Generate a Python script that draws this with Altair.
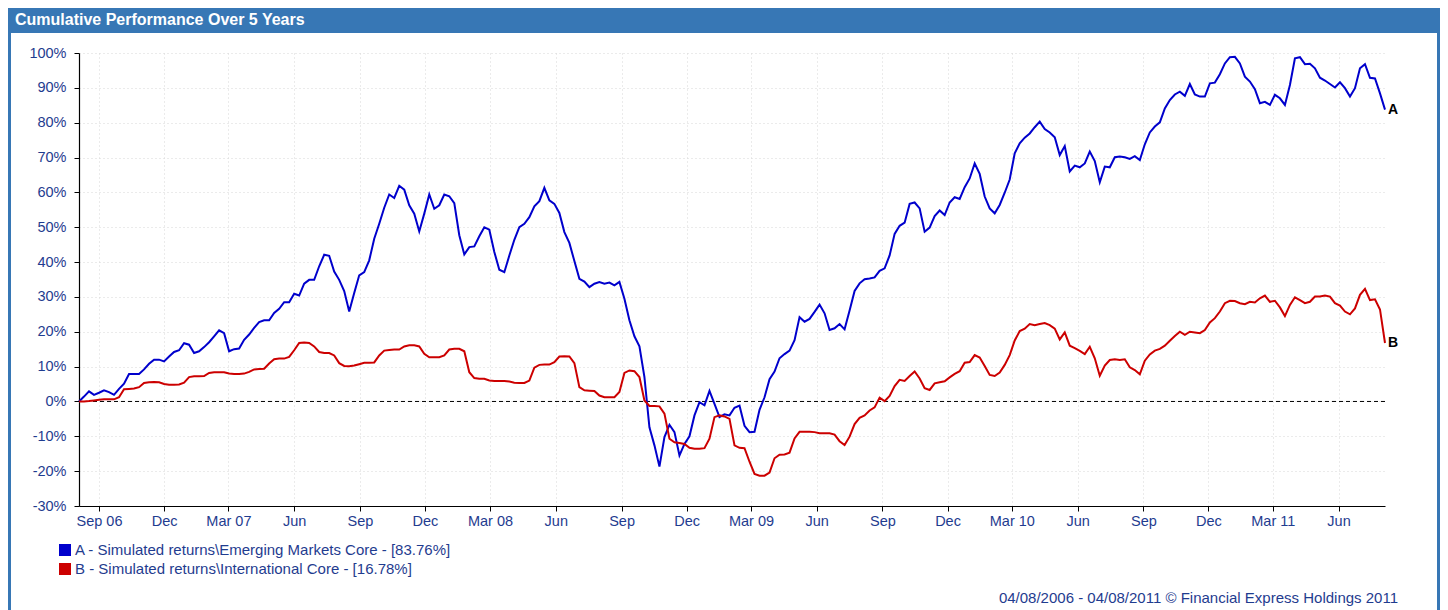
import altair as alt
import pandas as pd

# ---------------- data ----------------
start_date = "2006-08-04"
n_weeks = 262

emerging = [
    0, 1.4, 2.9, 1.9, 2.5, 3.2, 2.7, 1.9, 3.6, 5.1,
    7.9, 7.9, 7.9, 9.2, 10.8, 12.0, 12.0, 11.5, 12.9, 14.2,
    14.7, 16.7, 16.3, 13.9, 14.4, 15.6, 17.0, 18.7, 20.4, 19.6,
    14.4, 15.0, 15.2, 17.7, 19.2, 21.1, 22.8, 23.3, 23.3, 25.4,
    26.6, 28.5, 28.5, 30.9, 30.4, 33.8, 34.9, 34.9, 38.8, 42.1,
    41.8, 37.3, 34.9, 31.7, 25.8, 31.1, 36.2, 37.1, 40.5, 46.7,
    51.0, 55.6, 59.4, 58.4, 61.9, 60.8, 56.3, 53.9, 48.8, 53.9,
    59.4, 55.3, 56.3, 59.4, 58.9, 56.9, 47.7, 42.2, 44.3, 44.5,
    47.4, 50.0, 49.3, 42.9, 37.8, 37.1, 41.9, 46.4, 50.0, 51.0,
    52.9, 56.0, 57.5, 61.3, 57.7, 56.7, 54.1, 48.6, 45.5, 40.3,
    35.2, 34.4, 32.8, 33.8, 34.3, 33.8, 34.1, 33.3, 34.3, 29.5,
    23.3, 18.7, 15.8, 7.0, -7.4, -12.6, -18.7, -10.2, -6.7, -8.8,
    -15.5, -12.2, -10.0, -4.0, -0.2, -1.1, 3.0, -0.7, -4.5, -3.7,
    -4.0, -1.8, -1.2, -7.0, -8.8, -8.7, -2.4, 1.2, 6.4, 8.6,
    12.4, 13.6, 14.6, 17.6, 24.2, 22.9, 23.7, 25.7, 27.8, 25.3,
    20.5, 21.0, 22.2, 20.7, 26.1, 31.7, 33.9, 35.1, 35.3, 35.6,
    37.5, 38.2, 41.9, 48.1, 50.4, 51.3, 56.7, 57.1, 55.4, 48.7,
    49.9, 53.2, 54.8, 53.5, 57.1, 58.6, 58.1, 61.5, 64.0, 68.3,
    65.3, 58.8, 55.4, 54.0, 56.4, 59.9, 63.7, 71.2, 74.1, 75.7,
    76.9, 78.7, 80.3, 78.2, 77.2, 75.8, 70.7, 73.3, 66.0, 67.7,
    67.2, 68.3, 71.7, 69.0, 62.9, 67.4, 67.2, 70.1, 70.3, 70.1,
    69.6, 70.4, 69.3, 73.8, 77.2, 78.9, 80.1, 84.1, 86.5, 88.1,
    88.9, 87.7, 91.1, 88.1, 87.5, 87.5, 91.3, 91.5, 93.9, 97.0,
    98.8, 98.9, 97.0, 93.2, 91.8, 89.6, 85.6, 86.0, 85.1, 88.0,
    87.0, 85.1, 90.8, 98.5, 98.8, 96.8, 96.9, 95.6, 92.9, 92.1,
    91.1, 90.1, 91.6, 89.9, 87.5, 89.9, 95.6, 96.8, 92.9, 92.7,
    88.4, 83.76,
]

international = [
    0, 0, 0.1, 0.3, 0.5, 0.6, 0.6, 0.6, 1.2, 3.5,
    3.6, 3.7, 4.1, 5.3, 5.5, 5.6, 5.5, 5.0, 4.8, 4.8,
    4.9, 5.4, 7.0, 7.2, 7.2, 7.3, 8.2, 8.4, 8.4, 8.4,
    8.0, 7.9, 7.9, 8.0, 8.5, 9.2, 9.3, 9.4, 10.9, 12.1,
    12.3, 12.3, 12.8, 14.7, 16.8, 16.9, 16.8, 15.8, 14.2, 13.9,
    13.9, 13.2, 11.0, 10.2, 10.1, 10.3, 10.7, 11.1, 11.1, 11.2,
    13.2, 14.6, 14.8, 14.9, 14.9, 15.8, 16.1, 16.1, 15.8, 13.7,
    12.7, 12.7, 12.7, 13.2, 14.9, 15.1, 15.1, 14.4, 8.4, 6.7,
    6.5, 6.5, 6.0, 5.9, 5.9, 5.9, 5.7, 5.4, 5.3, 5.3,
    6.0, 9.7, 10.5, 10.6, 10.6, 11.3, 12.9, 13.0, 12.9, 11.0,
    4.1, 3.2, 3.1, 3.0, 1.7, 1.2, 1.2, 1.2, 2.7, 8.2,
    8.9, 8.7, 7.0, 0.3, -1.3, -1.3, -1.4, -3.5, -10.7, -11.7,
    -11.9, -12.2, -13.3, -13.6, -13.6, -13.4, -10.7, -4.5, -4.0, -4.3,
    -5.0, -12.6, -13.3, -13.4, -17.3, -20.8, -21.3, -21.3, -20.4, -16.3,
    -15.3, -15.2, -14.7, -10.6, -8.7, -8.7, -8.7, -8.8, -9.1, -9.1,
    -9.1, -9.5, -11.4, -12.5, -10.1, -6.5, -4.7, -4.0, -2.6, -1.7,
    1.1, 0.1, 1.6, 4.4, 6.2, 5.9, 7.3, 8.6, 6.6, 3.8,
    3.3, 5.2, 5.5, 5.8, 6.9, 7.9, 8.7, 11.1, 11.3, 13.3,
    12.6, 10.2, 7.6, 7.3, 8.3, 10.5, 13.3, 17.5, 20.2, 20.9,
    22.2, 21.9, 22.2, 22.5, 21.9, 20.9, 17.8, 19.8, 16.0, 15.3,
    14.5, 13.6, 15.7, 12.4, 7.4, 10.3, 11.9, 12.1, 11.9, 12.1,
    9.8, 9.0, 7.8, 11.7, 13.5, 14.6, 15.1, 16.0, 17.4, 18.8,
    20.0, 19.1, 20.0, 19.8, 19.6, 20.5, 22.7, 23.9, 25.8, 28.2,
    28.9, 28.8, 28.2, 27.9, 28.6, 28.4, 29.6, 30.4, 28.6, 28.9,
    27.0, 24.5, 27.7, 29.9, 29.1, 28.2, 28.6, 30.1, 30.1, 30.4,
    30.1, 28.2, 27.5, 25.8, 25.0, 26.7, 30.6, 32.3, 29.1, 29.3,
    26.4, 16.78,
]

series_names = ["A", "B"]
series_colors = ["#0000CC", "#CC0000"]
legend_labels = [
    "A - Simulated returns\\Emerging Markets Core - [83.76%]",
    "B - Simulated returns\\International Core - [16.78%]",
]
title_text = "Cumulative Performance Over 5 Years"
footer_text = "04/08/2006 - 04/08/2011 \u00a9 Financial Express Holdings 2011"

# quarterly x ticks (year, month)
tick_months = [
    (2006, 9), (2006, 12), (2007, 3), (2007, 6), (2007, 9), (2007, 12),
    (2008, 3), (2008, 6), (2008, 9), (2008, 12), (2009, 3), (2009, 6),
    (2009, 9), (2009, 12), (2010, 3), (2010, 6), (2010, 9), (2010, 12),
    (2011, 3), (2011, 6),
]
y_ticks = [-30, -20, -10, 0, 10, 20, 30, 40, 50, 60, 70, 80, 90, 100]

# ---------------- build tables ----------------
dates = pd.date_range(start_date, periods=n_weeks, freq="7D")
df = pd.concat([
    pd.DataFrame({"date": dates, "value": emerging, "series": series_names[0]}),
    pd.DataFrame({"date": dates, "value": international, "series": series_names[1]}),
], ignore_index=True)
df_end = pd.DataFrame({
    "date": [dates[-1], dates[-1]],
    "value": [emerging[-1], international[-1]],
    "series": series_names,
})

W, H = 1306, 453
PAD = {"left": 71, "top": 45, "right": 55, "bottom": 104}
FRAME = "#3777B5"
NAVY = "#1F3C8F"
FONT = "Liberation Sans"

one = pd.DataFrame({"k": [0]})

x_scale = alt.Scale(domain=[alt.DateTime(year=2006, month=8, date=4),
                            alt.DateTime(year=2011, month=8, date=5)])
x_axis = alt.Axis(
    values=[alt.DateTime(year=y, month=m, date=1) for y, m in tick_months],
    labelExpr="(month(datum.value) == 2 || (year(datum.value) == 2006 && month(datum.value) == 8))"
              " ? timeFormat(datum.value, '%b %y') : timeFormat(datum.value, '%b')",
    title=None, grid=True, tickSize=5, labelPadding=3, labelOverlap=False,
)
y_scale = alt.Scale(domain=[-30, 100], nice=False, zero=False)
y_axis = alt.Axis(values=y_ticks, labelExpr="datum.value + '%'", title=None,
                  grid=True, tickSize=5, labelPadding=8, labelOverlap=False,
                  labelFlush=False, labelBound=False)

lines = alt.Chart(df).mark_line(strokeWidth=2).encode(
    x=alt.X("date:T", scale=x_scale, axis=x_axis),
    y=alt.Y("value:Q", scale=y_scale, axis=y_axis),
    color=alt.Color("series:N", scale=alt.Scale(domain=series_names, range=series_colors), legend=None),
)

zero_rule = alt.Chart(pd.DataFrame({"v": [0]})).mark_rule(
    color="black", strokeDash=[4, 3], strokeWidth=1
).encode(y=alt.Y("v:Q", scale=y_scale, axis=y_axis))

end_labels = alt.Chart(df_end).mark_text(
    align="left", baseline="middle", dx=3, fontSize=14, fontWeight="bold", color="black", font=FONT
).encode(
    x=alt.X("date:T", scale=x_scale, axis=x_axis),
    y=alt.Y("value:Q", scale=y_scale, axis=y_axis),
    text="series:N",
)

title_bar = alt.Chart(one).mark_rect(color=FRAME).encode(
    x=alt.value(-PAD["left"]), x2=alt.value(W + PAD["right"]),
    y=alt.value(-PAD["top"]), y2=alt.value(-20),
)
title_mark = alt.Chart(pd.DataFrame({"t": [title_text]})).mark_text(
    align="left", baseline="middle", color="white", fontSize=16, fontWeight="bold", font=FONT
).encode(x=alt.value(-64), y=alt.value(-33), text="t:N")

left_border = alt.Chart(one).mark_rule(color=FRAME, strokeWidth=3).encode(
    x=alt.value(-PAD["left"] + 1.5), y=alt.value(-PAD["top"]), y2=alt.value(H + PAD["bottom"]),
)
right_border = alt.Chart(one).mark_rule(color=FRAME, strokeWidth=3).encode(
    x=alt.value(W + PAD["right"] - 1.5), y=alt.value(-PAD["top"]), y2=alt.value(H + PAD["bottom"]),
)

legend_layers = []
for i, (lab, col) in enumerate(zip(legend_labels, series_colors)):
    yc = 497 + i * 19
    legend_layers.append(
        alt.Chart(one).mark_rect(color=col).encode(
            x=alt.value(-20), x2=alt.value(-8), y=alt.value(yc - 6), y2=alt.value(yc + 6)
        )
    )
    legend_layers.append(
        alt.Chart(pd.DataFrame({"t": [lab]})).mark_text(
            align="left", baseline="middle", fontSize=15, color=NAVY, font=FONT
        ).encode(x=alt.value(-4), y=alt.value(yc), text="t:N")
    )

footer = alt.Chart(pd.DataFrame({"t": [footer_text]})).mark_text(
    align="right", baseline="middle", fontSize=15, color=NAVY, font=FONT
).encode(x=alt.value(1319), y=alt.value(545), text="t:N")

chart = alt.layer(
    title_bar, title_mark, left_border, right_border,
    zero_rule, lines, end_labels, *legend_layers, footer,
).properties(
    width=W, height=H,
    autosize=alt.AutoSizeParams(type="none"),
    padding=PAD,
    background="white",
).configure_view(stroke=None).configure_axis(
    labelColor=NAVY, labelFont=FONT, labelFontSize=14.5,
    domainColor="black", domainWidth=1.2, tickColor="black", tickWidth=1,
    gridColor="#d6d6d6", gridDash=[1, 3], gridWidth=1, labelOverlap=False,
)

chart.save("out.html", embed_options={"renderer": "svg", "actions": False})
